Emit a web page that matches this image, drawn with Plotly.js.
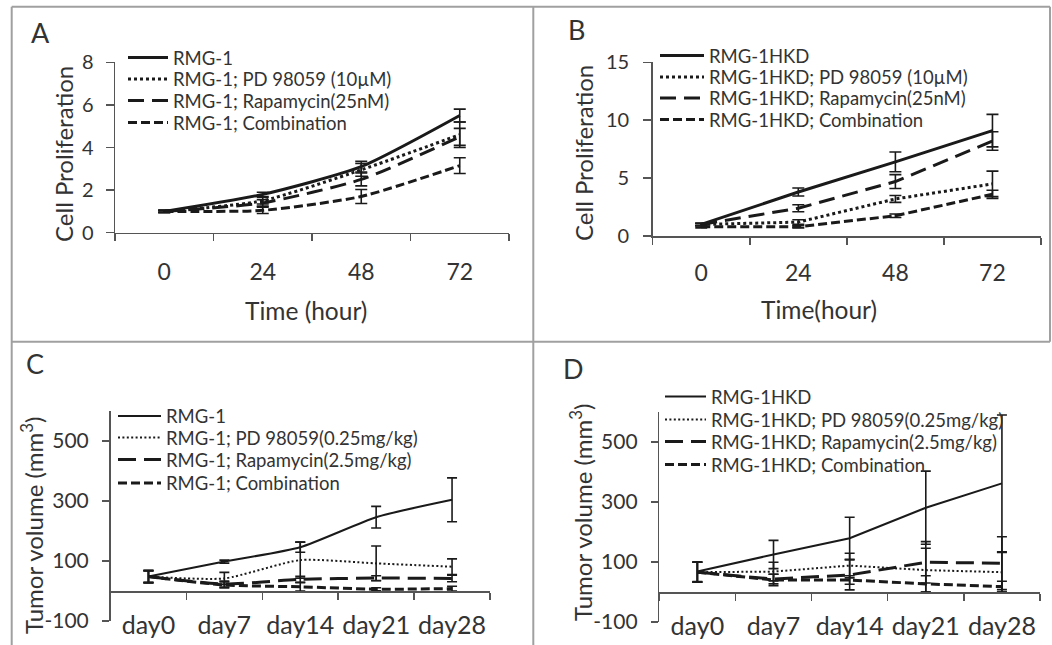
<!DOCTYPE html>
<html>
<head>
<meta charset="utf-8">
<script src="https://cdn.plot.ly/plotly-3.0.1.min.js"></script>
<style>html,body{margin:0;padding:0;background:#fff;}#chart{width:1052px;height:645px;}</style>
</head>
<body>
<div id="chart"></div>
<script>
// ---------- DATA ----------
const hours = ['0', '24', '48', '72'];
const days = ['day0', 'day7', 'day14', 'day21', 'day28'];
const volumeTicks = [-100, 100, 300, 500];

// Panel A: RMG-1 cell proliferation
const namesA = ['RMG-1', 'RMG-1; PD 98059 (10µM)', 'RMG-1; Rapamycin(25nM)', 'RMG-1; Combination'];
const A_ctrl = [1.0, 1.8, 3.1, 5.5];
const A_ctrlErr = [0.05, 0.1, 0.25, 0.3];
const A_pd = [1.0, 1.5, 2.95, 4.6];
const A_pdErr = [0.05, 0.15, 0.3, 0.6];
const A_rapa = [1.0, 1.4, 2.5, 4.5];
const A_rapaErr = [0.05, 0.15, 0.3, 0.4];
const A_comb = [1.0, 1.05, 1.7, 3.15];
const A_combErr = [0.05, 0.15, 0.33, 0.37];

// Panel B: RMG-1HKD cell proliferation
const namesB = ['RMG-1HKD', 'RMG-1HKD; PD 98059 (10µM)', 'RMG-1HKD; Rapamycin(25nM)', 'RMG-1HKD; Combination'];
const B_ctrl = [1.0, 3.8, 6.4, 9.1];
const B_ctrlErr = [0.1, 0.35, 0.85, 1.4];
const B_pd = [1.0, 1.2, 3.2, 4.5];
const B_pdErr = [0.1, 0.2, 0.3, 1.1];
const B_rapa = [1.0, 2.4, 4.7, 8.2];
const B_rapaErr = [0.1, 0.3, 0.6, 0.8];
const B_comb = [0.8, 0.8, 1.75, 3.6];
const B_combErr = [0.1, 0.1, 0.15, 0.35];

// Panel C: RMG-1 tumor volume
const namesC = ['RMG-1', 'RMG-1; PD 98059(0.25mg/kg)', 'RMG-1; Rapamycin(2.5mg/kg)', 'RMG-1; Combination'];
const C_ctrl = [48, 98, 146, 246, 304];
const C_ctrlErr = [20, 5, 17, 36, 73];
const C_pd = [48, 42, 103, 92, 81];
const C_pdErr = [20, 20, 60, 58, 26];
const C_rapa = [48, 23, 39, 43, 42];
const C_rapaErr = [20, 10, 10, 8, 11];
const C_comb = [48, 20, 14, 6, 8];
const C_combErr = [20, 10, 14, 5, 8];

// Panel D: RMG-1HKD tumor volume
const namesD = ['RMG-1HKD', 'RMG-1HKD; PD 98059(0.25mg/kg)', 'RMG-1HKD; Rapamycin(2.5mg/kg)', 'RMG-1HKD; Combination'];
const D_ctrl = [68, 125, 179, 281, 362];
const D_ctrlErr = [33, 47, 70, 122, 228];
const D_pd = [66, 68, 88, 73, 66];
const D_pdErr = [33, 31, 41, 73, 66];
const D_rapa = [66, 43, 57, 99, 96];
const D_rapaErr = [33, 16, 50, 69, 88];
const D_comb = [66, 40, 40, 27, 18];
const D_combErr = [33, 19, 14, 27, 18];

// ---------- STYLE ----------
const W = 1052, H = 645;
const px = v => v / W;
const py = v => 1 - v / H;
const FONT = 'Lato, "Open Sans", sans-serif';
const TXT = '#333333';
const INK = '#1a1a1a';
const AX = '#555555';
const LEGSIZE = 18.5;

const stylesTop = [
  {dash: 'solid', width: 3},
  {dash: '3px,3px', width: 3},
  {dash: '16px,8px', width: 3},
  {dash: '9px,4px', width: 3}
];
const stylesBot = [
  {dash: 'solid', width: 2},
  {dash: '2px,2.4px', width: 2},
  {dash: '18px,8px', width: 3},
  {dash: '9px,4px', width: 3}
];

// one legend box per entry so that the row spacing can follow the reference
const legendRows = {
  A: {x: 123, iw: 40, rows: [58, 79.5, 101, 123]},
  B: {x: 655, iw: 44, rows: [56, 77.5, 98.5, 120]},
  C: {x: 113, iw: 43, rows: [416.5, 438, 460, 483.5]},
  D: {x: 660, iw: 41, rows: [397, 420, 442, 465]}
};

let legendCount = 0;
const legendLayouts = {};
function nextLegend(panel, i) {
  legendCount += 1;
  const id = legendCount === 1 ? 'legend' : 'legend' + legendCount;
  const spec = legendRows[panel];
  legendLayouts[id] = {
    x: px(spec.x), y: py(spec.rows[i]), xanchor: 'left', yanchor: 'middle',
    bgcolor: 'rgba(0,0,0,0)', borderwidth: 0, itemwidth: spec.iw,
    font: {family: FONT, size: LEGSIZE, color: TXT}
  };
  return id;
}

function series(panel, x, ys, errs, names, styles, xa, ya, shape, capw) {
  return ys.map((y, i) => ({
    type: 'scatter', mode: 'lines', x: x, y: y, name: names[i],
    xaxis: xa, yaxis: ya, legend: nextLegend(panel, i),
    line: {color: INK, width: styles[i].width, dash: styles[i].dash, shape: shape, smoothing: 0.6},
    error_y: {type: 'data', array: errs[i], visible: true, color: INK, thickness: 1.6, width: capw},
    hoverinfo: 'skip'
  }));
}

const data = [].concat(
  series('A', hours, [A_ctrl, A_pd, A_rapa, A_comb], [A_ctrlErr, A_pdErr, A_rapaErr, A_combErr], namesA, stylesTop, 'x', 'y', 'spline', 6),
  series('B', hours, [B_ctrl, B_pd, B_rapa, B_comb], [B_ctrlErr, B_pdErr, B_rapaErr, B_combErr], namesB, stylesTop, 'x2', 'y2', 'linear', 6),
  series('C', days, [C_ctrl, C_pd, C_rapa, C_comb], [C_ctrlErr, C_pdErr, C_rapaErr, C_combErr], namesC, stylesBot, 'x3', 'y3', 'spline', 5),
  series('D', days, [D_ctrl, D_pd, D_rapa, D_comb], [D_ctrlErr, D_pdErr, D_rapaErr, D_combErr], namesD, stylesBot, 'x4', 'y4', 'linear', 5)
);

function xCat(domain, n, extra) {
  return Object.assign({
    domain: domain, type: 'category', range: [-0.5, n - 0.5],
    tickson: 'boundaries', ticks: 'outside', ticklen: 7, tickwidth: 1.5, tickcolor: AX,
    showline: true, linecolor: AX, linewidth: 1.5, showgrid: false, zeroline: false,
    tickangle: 0, tickfont: {family: FONT, size: 23, color: TXT}, fixedrange: true
  }, extra);
}
function yLin(domain, extra) {
  return Object.assign({
    domain: domain, ticks: 'outside', ticklen: 8, tickwidth: 1.5, tickcolor: AX,
    showline: true, linecolor: AX, linewidth: 1.5, showgrid: false, zeroline: false,
    tickfont: {family: FONT, size: 20, color: TXT}, fixedrange: true
  }, extra);
}
function ann(text, x, y, size, angle) {
  return {text: text, x: px(x), y: py(y), xref: 'paper', yref: 'paper', showarrow: false,
          xanchor: 'center', yanchor: 'middle', textangle: angle || 0,
          font: {family: FONT, size: size, color: TXT}};
}
function line(x0, y0, x1, y1) {
  return {type: 'line', xref: 'paper', yref: 'paper', x0: px(x0), y0: py(y0), x1: px(x1), y1: py(y1),
          line: {color: '#a0a0a0', width: 2}};
}

const volTickText = volumeTicks.map(v => String(v));

const layout = Object.assign({
  width: W, height: H, margin: {l: 0, r: 0, t: 0, b: 0},
  paper_bgcolor: '#ffffff', plot_bgcolor: 'rgba(0,0,0,0)',
  font: {family: FONT, color: TXT}, showlegend: true,
  xaxis: xCat([px(115), px(509)], hours.length, {anchor: 'y', ticklabelstandoff: 18}),
  yaxis: yLin([py(232.7), py(62.3)], {anchor: 'x', range: [0, 8], dtick: 2, ticklabelstandoff: 8}),
  xaxis2: xCat([px(652.7), px(1041)], hours.length, {anchor: 'y2', ticklabelstandoff: 16}),
  yaxis2: yLin([py(236), py(62.3)], {anchor: 'x2', range: [0, 15], dtick: 5, ticklabelstandoff: 10}),
  xaxis3: xCat([px(110.5), px(490)], days.length, {anchor: 'free', position: py(591), ticklabelstandoff: 11, tickfont: {family: FONT, size: 25, color: TXT}}),
  yaxis3: yLin([py(621), py(411)], {anchor: 'x3', range: [-100, 600], tickvals: volumeTicks, ticktext: volTickText, ticklen: 7, ticklabelstandoff: 9, tickfont: {family: FONT, size: 21, color: TXT}}),
  xaxis4: xCat([px(659.3), px(1040)], days.length, {anchor: 'free', position: py(592), ticklabelstandoff: 11, tickfont: {family: FONT, size: 25, color: TXT}}),
  yaxis4: yLin([py(622), py(412)], {anchor: 'x4', range: [-100, 600], tickvals: volumeTicks, ticktext: volTickText, ticklen: 7, ticklabelstandoff: 9, tickfont: {family: FONT, size: 21, color: TXT}}),
  annotations: [
    ann('A', 40, 32, 27), ann('B', 576, 30, 27), ann('C', 35, 363, 27), ann('D', 573, 368, 27),
    ann('Time (hour)', 306, 311, 24.5), ann('Time(hour)', 819, 309, 24.5),
    ann('Cell Proliferation', 63, 154, 24, -90), ann('Cell Proliferation', 583, 153, 24, -90),
    ann('Tumor volume (mm<sup>3</sup>)', 32, 526, 24, -90), ann('Tumor volume (mm<sup>3</sup>)', 581, 513, 24, -90)
  ],
  shapes: [
    line(11.7, 6.7, 1050, 6.7), line(11.7, 6.7, 11.7, 645), line(533.3, 6.7, 533.3, 645),
    line(11.7, 341.7, 1050, 341.7), line(1050, 6.7, 1050, 341.7)
  ]
}, legendLayouts);

Plotly.newPlot('chart', data, layout, {staticPlot: true, displayModeBar: false});
</script>
</body>
</html>
